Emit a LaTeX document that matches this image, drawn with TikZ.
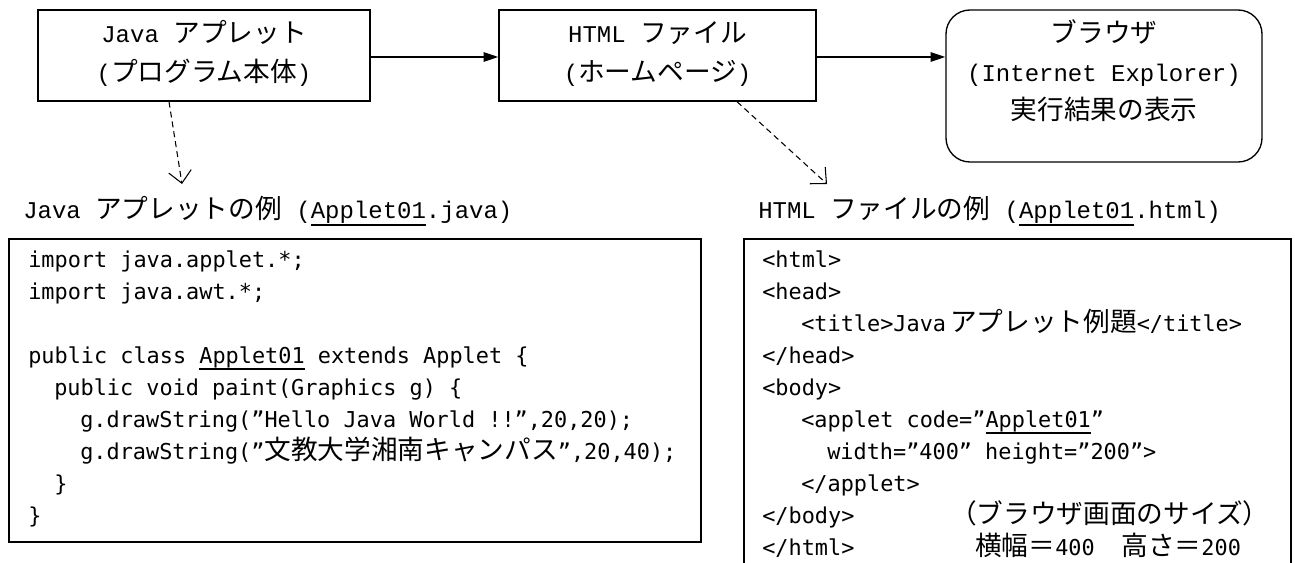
\documentclass[tikz,border=0pt]{standalone}
\usepackage{fontspec}
\setmainfont{Liberation Serif}
\newfontfamily\jp{Noto Sans CJK JP}
\newfontfamily\lmono{Liberation Mono}
\newfontfamily\cf{DejaVu Sans Mono}
\usetikzlibrary{arrows.meta}
\newcommand\J[1]{{\jp\fontsize{20pt}{24pt}\selectfont #1}}
\newcommand\ulx[1]{\setbox0=\hbox{#1}\leavevmode\rlap{\rule[-5pt]{\wd0}{1.1pt}}\box0\relax}
\begin{document}
\begin{tikzpicture}[x=0.75pt,y=-0.75pt,
  box/.style={draw, line width=1pt, inner sep=0pt, rectangle},
  rbox/.style={box, rounded corners=18pt},
  arr/.style={line width=1.1pt, -{Triangle[length=11pt,width=7pt]}},
  darr/.style={line width=0.8pt, dash pattern=on 4.5pt off 3pt, -{Straight Barb[length=9pt,width=17pt]}},
  mt/.style={anchor=base, inner sep=0pt, font=\lmono\fontsize{18pt}{18pt}\selectfont},
  lab/.style={anchor=base west, inner sep=0pt, font=\lmono\fontsize{18pt}{18pt}\selectfont},
  cl/.style={anchor=base west, inner sep=0pt, font=\cf\fontsize{16.4pt}{16.4pt}\selectfont},
  note/.style={anchor=base west, inner sep=0pt, font=\jp\fontsize{20pt}{20pt}\selectfont}]
\useasboundingbox (0,0) rectangle (1295,563);
% top boxes
\node[box, minimum width=249pt, minimum height=68.25pt] (b1) at (204,55.5) {};
\node[box, minimum width=237.75pt, minimum height=68.25pt] (b2) at (657.5,55.5) {};
\node[rbox, minimum width=237pt, minimum height=114pt] (b3) at (1104,86) {};
\node[mt] (t1a) at (204,43) {Java \J{アプレット}};
\node[mt] (t1b) at (204,82) {(\J{プログラム本体})};
\node[mt] (t2a) at (657.5,43) {HTML \J{ファイル}};
\node[mt] (t2b) at (657.5,82) {(\J{ホームページ})};
\node[mt] (t3a) at (1104,43) {\J{ブラウザ}};
\node[mt] (t3b) at (1104,82) {(Internet Explorer)};
\node[mt] (t3c) at (1104,120) {\J{実行結果の表示}};
% arrows
\draw[arr] (b1.east |- 0,57) -- (b2.west |- 0,57);
\draw[arr] (b2.east |- 0,57) -- (b3.west |- 0,57);
\coordinate (e1) at (182,184);
\coordinate (e2) at (827,184);
\draw[darr] ([xshift=-26.25pt]b1.south) -- (e1);
\draw[darr] ([xshift=59.6pt]b2.south) -- (e2);
% labels
\node[lab] (l1) at (23,219) {Java \J{アプレットの例} (\ulx{Applet01}.java)};
\node[lab] (l2) at (758,219) {HTML \J{ファイルの例} (\ulx{Applet01}.html)};
% code boxes
\node[box, minimum width=519pt, minimum height=227.25pt] (cb1) at (355,390.5) {};
\node[box, minimum width=410.25pt, minimum height=270.75pt] (cb2) at (1017.5,419.5) {};
% java code
\node[cl] (j1) at (28,267) {import java.applet.*;};
\node[cl] (j2) at (28,299) {import java.awt.*;};
\node[cl] (j3) at (28,363) {public class \ulx{Applet01} extends Applet \{};
\node[cl] (j4) at (54,395) {public void paint(Graphics g) \{};
\node[cl] (j5) at (80,427) {g.drawString(”Hello Java World !!”,20,20);};
\node[cl] (j6) at (80,459) {g.drawString(”\J{文教大学湘南キャンパス}”,20,40);};
\node[cl] (j7) at (54,491) {\}};
\node[cl] (j8) at (28,523) {\}};
% html code
\node[cl] (h1) at (762,267) {<html>};
\node[cl] (h2) at (762,299) {<head>};
\node[cl] (h3) at (801,331) {<title>Java\hspace{3pt}\J{アプレット例題}</title>};
\node[cl] (h4) at (762,363) {</head>};
\node[cl] (h5) at (762,395) {<body>};
\node[cl] (h6) at (801,427) {<applet code=”\ulx{Applet01}”};
\node[cl] (h7) at (827,459) {width=”400” height=”200”>};
\node[cl] (h8) at (801,491) {</applet>};
\node[cl] (h9) at (762,523) {</body>};
\node[cl] (h10) at (762,555) {</html>};
\node[note] (n1) at (950,523) {（ブラウザ画面のサイズ）};
\node[cl] (n2) at (975,555) {\J{横幅＝}400\J{　高さ＝}200};
\end{tikzpicture}
\end{document}
